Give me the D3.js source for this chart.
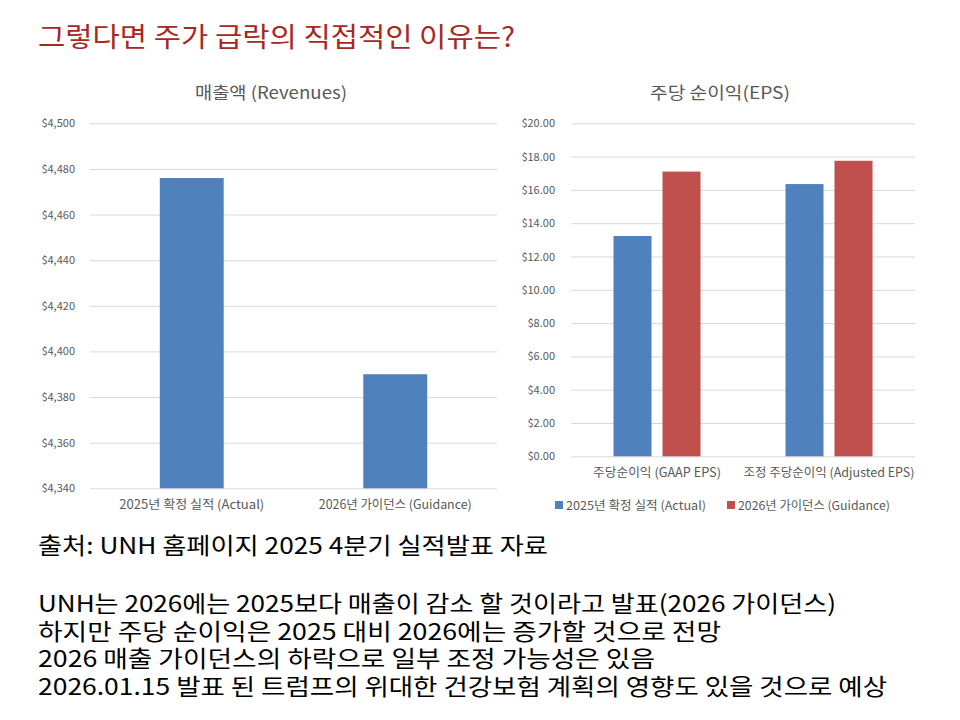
<!DOCTYPE html>
<html><head><meta charset="utf-8">
<script src="https://cdn.jsdelivr.net/npm/d3@7"></script>
<style>
body{margin:0;background:#fff;}
svg text{font-family:"Noto Sans CJK KR","Noto Sans",sans-serif;}
</style></head>
<body><svg id="c" width="960" height="720"></svg>
<script>
// ---- data ----
const revCategories = ["2025년 확정 실적 (Actual)", "2026년 가이던스 (Guidance)"];
const revValues = [4476, 4390];
const revTicks = [4340, 4360, 4380, 4400, 4420, 4440, 4460, 4480, 4500];

const epsCategories = ["주당순이익 (GAAP EPS)", "조정 주당순이익 (Adjusted EPS)"];
const epsSeries = ["2025년 확정 실적 (Actual)", "2026년 가이던스 (Guidance)"];
const eps2025 = [13.23, 16.35];
const eps2026 = [17.10, 17.75];
const epsTicks = [0, 2, 4, 6, 8, 10, 12, 14, 16, 18, 20];

const titleText = "그렇다면 주가 급락의 직접적인 이유는?";
const revTitle = "매출액 (Revenues)";
const epsTitle = "주당 순이익(EPS)";
const notes = [
  "출처: UNH 홈페이지 2025 4분기 실적발표 자료",
  "UNH는 2026에는 2025보다 매출이 감소 할 것이라고 발표(2026 가이던스)",
  "하지만 주당 순이익은 2025 대비 2026에는 증가할 것으로 전망",
  "2026 매출 가이던스의 하락으로 일부 조정 가능성은 있음",
  "2026.01.15 발표 된 트럼프의 위대한 건강보험 계획의 영향도 있을 것으로 예상"
];

const colors = ["#4F81BD", "#C0504D"];
const gridColor = "#D9D9D9";
const labelColor = "#595959";

const svg = d3.select("#c");

// main title
svg.append("text").attr("x", 38).attr("y", 47)
  .attr("font-size", 27).attr("fill", "#A8281F")
  .attr("textLength", 477).attr("lengthAdjust", "spacingAndGlyphs").text(titleText);

// ---- Revenue chart ----
{
  const x0 = 90, x1 = 497, yTop = 123.3, yBot = 488.3;
  const x = d3.scaleBand().domain(revCategories).range([x0, x1])
    .paddingInner(0.686).paddingOuter(0.343);
  const y = d3.scaleLinear().domain([4340, 4500]).range([yBot, yTop]);
  const g = svg.append("g");
  const ax = d3.axisLeft(y).tickValues(revTicks).tickSize(-(x1 - x0))
    .tickPadding(15).tickFormat(d => "$" + d3.format(",")(d));
  const ag = g.append("g").attr("transform", `translate(${x0},0)`).call(ax);
  ag.select(".domain").remove();
  ag.selectAll(".tick line").attr("stroke", gridColor).attr("stroke-width", 1);
  ag.selectAll(".tick text").attr("fill", labelColor).attr("font-size", 11)
    .attr("font-family", "'Noto Sans','Noto Sans CJK KR',sans-serif");
  g.selectAll("rect.bar").data(revValues).join("rect").attr("class", "bar")
    .attr("x", (d, i) => x(revCategories[i])).attr("width", x.bandwidth())
    .attr("y", d => y(d)).attr("height", d => yBot - y(d)).attr("fill", colors[0]);
  const xa = d3.axisBottom(x).tickSize(0).tickPadding(12);
  const xg = g.append("g").attr("transform", `translate(0,${yBot})`).call(xa);
  xg.select(".domain").remove();
  xg.selectAll(".tick text").attr("fill", labelColor).attr("font-size", 12.5)
    .attr("font-family", "'Noto Sans CJK KR',sans-serif")
    .attr("textLength", (d, i) => [145, 153][i]).attr("lengthAdjust", "spacingAndGlyphs");
  g.append("text").attr("x", 271).attr("y", 99).attr("text-anchor", "middle")
    .attr("font-size", 17).attr("fill", labelColor)
    .attr("textLength", 152).attr("lengthAdjust", "spacingAndGlyphs").text(revTitle);
}

// ---- EPS chart ----
{
  const x0 = 571, x1 = 915, yTop = 123.3, yBot = 456.3;
  const x = d3.scaleBand().domain(epsCategories).range([x0, x1])
    .paddingInner(0.494).paddingOuter(0.247);
  const xs = d3.scaleBand().domain(epsSeries).range([0, x.bandwidth()])
    .paddingInner(0.224).paddingOuter(0);
  const y = d3.scaleLinear().domain([0, 20]).range([yBot, yTop]);
  const g = svg.append("g");
  const ax = d3.axisLeft(y).tickValues(epsTicks).tickSize(-(x1 - x0))
    .tickPadding(16).tickFormat(d => "$" + d3.format(".2f")(d));
  const ag = g.append("g").attr("transform", `translate(${x0},0)`).call(ax);
  ag.select(".domain").remove();
  ag.selectAll(".tick line").attr("stroke", gridColor).attr("stroke-width", 1);
  ag.selectAll(".tick text").attr("fill", labelColor).attr("font-size", 11)
    .attr("font-family", "'Noto Sans','Noto Sans CJK KR',sans-serif");
  const seriesData = [eps2025, eps2026];
  seriesData.forEach((vals, si) => {
    g.selectAll("rect.s" + si).data(vals).join("rect").attr("class", "s" + si)
      .attr("x", (d, i) => x(epsCategories[i]) + xs(epsSeries[si]))
      .attr("width", xs.bandwidth())
      .attr("y", d => y(d)).attr("height", d => yBot - y(d)).attr("fill", colors[si]);
  });
  const xa = d3.axisBottom(x).tickSize(0).tickPadding(12);
  const xg = g.append("g").attr("transform", `translate(0,${yBot})`).call(xa);
  xg.select(".domain").remove();
  xg.selectAll(".tick text").attr("fill", labelColor).attr("font-size", 12.5)
    .attr("font-family", "'Noto Sans CJK KR',sans-serif")
    .attr("textLength", (d, i) => [128, 171][i]).attr("lengthAdjust", "spacingAndGlyphs");
  g.append("text").attr("x", 720).attr("y", 99).attr("text-anchor", "middle")
    .attr("font-size", 17).attr("fill", labelColor)
    .attr("textLength", 140).attr("lengthAdjust", "spacingAndGlyphs").text(epsTitle);
  // legend
  const legX = [555, 727];
  epsSeries.forEach((s, i) => {
    g.append("rect").attr("x", legX[i]).attr("y", 501).attr("width", 8).attr("height", 8)
      .attr("fill", colors[i]);
    g.append("text").attr("x", legX[i] + 11).attr("y", 509.5)
      .attr("font-size", 12).attr("fill", labelColor)
      .attr("textLength", [140, 152][i]).attr("lengthAdjust", "spacingAndGlyphs").text(s);
  });
}

// ---- notes ----
const noteY = [554, 612, 640, 667, 695];
const noteW = [510, 798, 683, 617, 849];
notes.forEach((t, i) => {
  svg.append("text").attr("x", 38).attr("y", noteY[i]).attr("font-size", 23)
    .attr("fill", "#000").attr("textLength", noteW[i])
    .attr("lengthAdjust", "spacingAndGlyphs").text(t);
});
</script></body></html>
